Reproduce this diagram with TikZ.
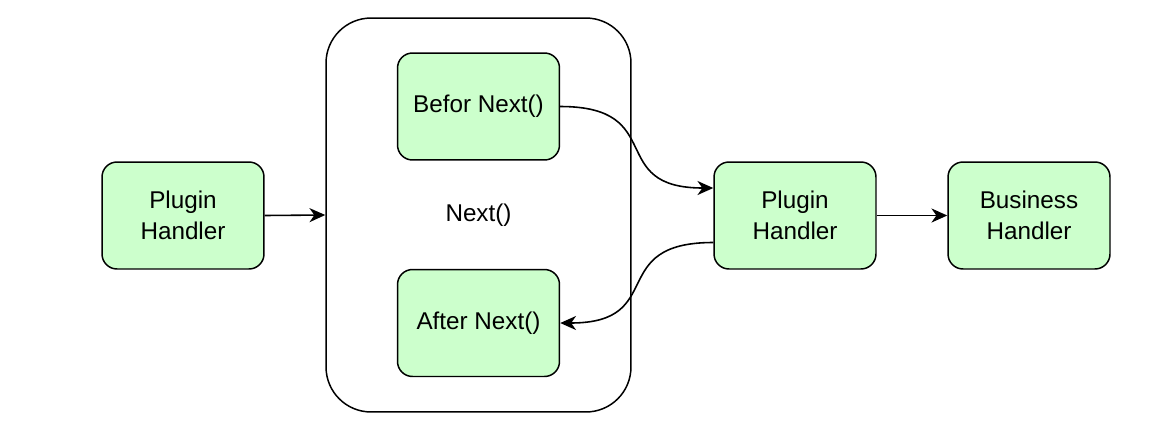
\documentclass[tikz,border=0pt]{standalone}
\usepackage{fontspec}
\setmainfont{Liberation Sans}
\usetikzlibrary{arrows.meta}

\definecolor{boxfill}{HTML}{CCFFCC}
\tikzset{handler/.style={draw=black,fill=boxfill,rounded corners=0.3cm,line width=0.85pt,
    minimum width=3.24cm,minimum height=2.14cm,align=center,inner sep=2pt,
    font=\fontsize{13.8}{17.6}\selectfont}}
\tikzset{wrapper/.style={draw=black,rounded corners=0.9cm,line width=0.85pt,
    minimum width=6.1cm,minimum height=7.88cm,font=\fontsize{13.8}{17.6}\selectfont}}
\tikzset{flow/.style={draw=black,line width=0.9pt,-{Stealth[length=9pt,width=8pt,inset=2.8pt]}}}

\begin{document}
\begin{tikzpicture}[x=0.02cm,y=-0.02cm]
    \useasboundingbox (0,0) rectangle (1152,430);
    \node[wrapper] (wrap)  at (478.5,215)   {Next()};
    \node[handler] (pl)    at (183,215.5)   {Plugin\\Handler};
    \node[handler] (befor) at (478.5,106.5) {Befor Next()};
    \node[handler] (after) at (478.5,323)   {After Next()};
    \node[handler] (pr)    at (795,215.5)   {Plugin\\Handler};
    \node[handler] (biz)   at (1029,215.5)  {Business\\Handler};
    % straight hops
    \draw[flow] (pl.east) -- (wrap.west);
    \draw[flow] (pr.east) -- (biz.west);
    % into the next handler and back again
    \draw[flow] (befor.east) to[out=0,in=180,looseness=1.6] ([yshift=0.55cm]pr.west);
    \draw[flow] ([yshift=-0.54cm]pr.west) to[out=180,in=0,looseness=1.6] (after.east);
\end{tikzpicture}
\end{document}
